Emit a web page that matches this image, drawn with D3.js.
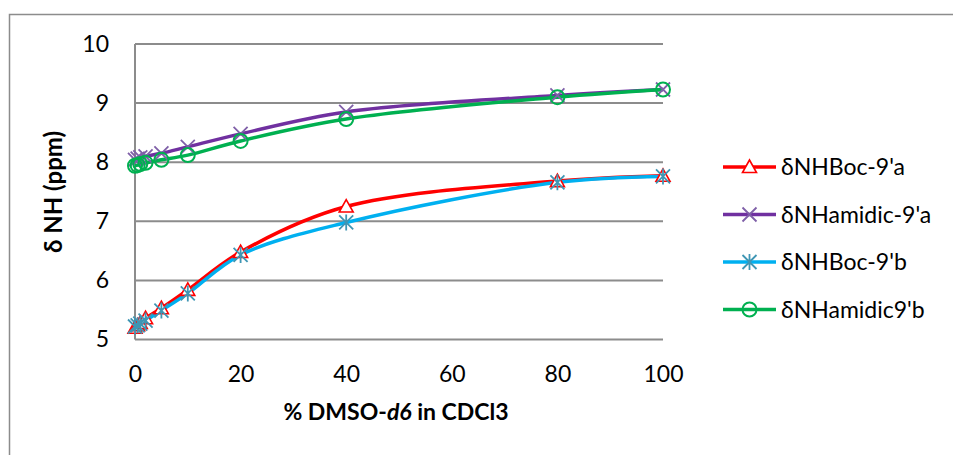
<!DOCTYPE html>
<html><head><meta charset="utf-8">
<script src="https://cdn.jsdelivr.net/npm/d3@7"></script>
<style>body{margin:0;background:#fff}svg{display:block}text{font-family:Lato,"Open Sans",sans-serif}</style>
</head><body>
<svg id="c" width="953" height="455"></svg>
<script>
const xValues = [0, 0.5, 1, 2, 5, 10, 20, 40, 80, 100];
const seriesNames = ["δNHBoc-9'a", "δNHamidic-9'a", "δNHBoc-9'b", "δNHamidic9'b"];
const bocA    = [5.20, 5.24, 5.28, 5.36, 5.53, 5.84, 6.48, 7.25, 7.68, 7.77];
const amidicA = [8.04, 8.06, 8.08, 8.10, 8.15, 8.26, 8.48, 8.85, 9.13, 9.23];
const bocB    = [5.22, 5.24, 5.27, 5.32, 5.49, 5.78, 6.43, 6.98, 7.66, 7.76];
const amidicB = [7.94, 7.95, 7.97, 7.99, 8.04, 8.12, 8.36, 8.73, 9.10, 9.23];
const yTicks = [5, 6, 7, 8, 9, 10];
const xTicks = [0, 20, 40, 60, 80, 100];

const svg = d3.select("#c");
const W = 953, H = 455;
svg.append("rect").attr("x", 9.5).attr("y", 14.5).attr("width", W).attr("height", H)
  .attr("fill", "none").attr("stroke", "#8c8c8c").attr("stroke-width", 1.5);

const x = d3.scaleLinear().domain([0, 100]).range([135, 663]);
const y = d3.scaleLinear().domain([5, 10]).range([339.5, 44]);

svg.append("g").selectAll("line").data(yTicks).join("line")
  .attr("x1", x(0)).attr("x2", x(100)).attr("y1", d => y(d)).attr("y2", d => y(d))
  .attr("stroke", "#8c8c8c").attr("stroke-width", 2);
svg.append("line").attr("x1", x(0)).attr("x2", x(0)).attr("y1", y(10)).attr("y2", y(5))
  .attr("stroke", "#8c8c8c").attr("stroke-width", 2);

const yAxis = d3.axisLeft(y).tickValues(yTicks).tickFormat(d3.format("d")).tickSize(0).tickPadding(26);
const gy = svg.append("g").attr("transform", `translate(${x(0)},0)`).call(yAxis);
gy.select(".domain").remove();
gy.attr("font-family", null).attr("font-size", null);
gy.selectAll("text").attr("font-size", 23).attr("fill", "#000");

const xAxis = d3.axisBottom(x).tickValues(xTicks).tickFormat(d3.format("d")).tickSize(0).tickPadding(26);
const gx = svg.append("g").attr("transform", `translate(0,${y(5)})`).call(xAxis);
gx.select(".domain").remove();
gx.attr("font-family", null).attr("font-size", null);
gx.selectAll("text").attr("font-size", 23).attr("fill", "#000");

const xt = svg.append("text").attr("x", 396).attr("y", 420).attr("text-anchor", "middle")
  .attr("font-size", 23).attr("font-weight", "bold");
xt.append("tspan").text("% DMSO-");
xt.append("tspan").attr("font-style", "italic").text("d6");
xt.append("tspan").text(" in CDCl3");
svg.append("text").attr("transform", `translate(62,192) rotate(-90)`).attr("text-anchor", "middle")
  .attr("font-size", 24).attr("font-weight", "bold").text("δ NH (ppm)");

const series = [
  {name: seriesNames[0], vals: bocA, color: "#ff0000", mcolor: "#ff0000", marker: "tri"},
  {name: seriesNames[1], vals: amidicA, color: "#7030a0", mcolor: "#7f5fa8", marker: "x"},
  {name: seriesNames[2], vals: bocB, color: "#00b0f0", mcolor: "#3f96b4", marker: "star"},
  {name: seriesNames[3], vals: amidicB, color: "#00b050", mcolor: "#00b050", marker: "circ"}
];

const line = d3.line().x(d => x(d[0])).y(d => y(d[1])).curve(d3.curveCatmullRom.alpha(0.5));

function drawMarker(g, type, color) {
  if (type === "tri") {
    g.append("path").attr("d", "M0,-7 L7,5.5 L-7,5.5 Z").attr("fill", "#fff").attr("stroke", color).attr("stroke-width", 1.6);
  } else if (type === "x") {
    g.append("path").attr("d", "M-7,-7 L7,7 M-7,7 L7,-7").attr("stroke", color).attr("stroke-width", 1.8);
  } else if (type === "star") {
    g.append("path").attr("d", "M-7,-7 L7,7 M-7,7 L7,-7 M0,-8 L0,8").attr("stroke", color).attr("stroke-width", 1.8);
  } else {
    g.append("circle").attr("r", 7).attr("fill", "none").attr("stroke", color).attr("stroke-width", 2);
  }
}

series.forEach(s => {
  const pts = xValues.map((xv, i) => [xv, s.vals[i]]);
  svg.append("path").datum(pts).attr("d", line).attr("fill", "none")
    .attr("stroke", s.color).attr("stroke-width", 3.5);
});
series.forEach(s => {
  xValues.forEach((xv, i) => {
    const g = svg.append("g").attr("transform", `translate(${x(xv)},${y(s.vals[i])})`);
    drawMarker(g, s.marker, s.mcolor);
  });
});

const lg = svg.append("g");
series.forEach((s, i) => {
  const yy = 167 + i * 47.5;
  lg.append("line").attr("x1", 723).attr("x2", 776).attr("y1", yy).attr("y2", yy)
    .attr("stroke", s.color).attr("stroke-width", 3.5);
  drawMarker(lg.append("g").attr("transform", `translate(749.5,${yy})`), s.marker, s.mcolor);
  lg.append("text").attr("x", 781).attr("y", yy).attr("dy", "0.35em").attr("font-size", 23).text(s.name);
});
</script>
</body></html>
